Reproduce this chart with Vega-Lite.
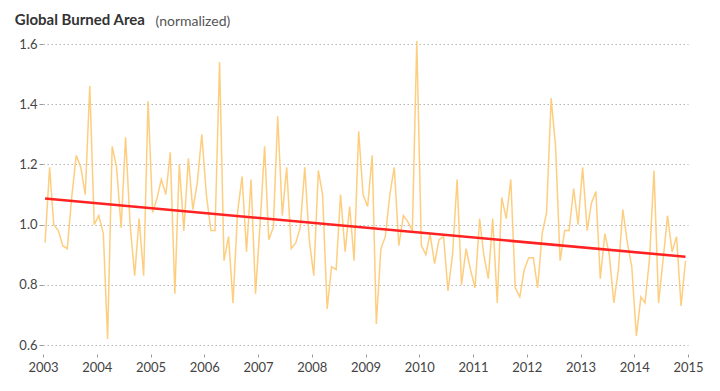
{
  "$schema": "https://vega.github.io/schema/vega-lite/v6.json",
  "width": 645,
  "height": 301,
  "autosize": "none",
  "padding": {"left": 43, "top": 44, "right": 32, "bottom": 46},
  "background": "white",
  "title": {
    "text": "Global Burned Area",
    "anchor": "start",
    "dx": -4,
    "offset": -14,
    "font": "Lato",
    "fontSize": 15,
    "fontWeight": "bold",
    "color": "#333333"
  },
  "config": {"view": {"stroke": null}},
  "datasets": {
    "burn": [
      {"date": "2003-01-15", "v": 0.94}, {"date": "2003-02-15", "v": 1.19}, {"date": "2003-03-15", "v": 1.00}, {"date": "2003-04-15", "v": 0.98},
      {"date": "2003-05-15", "v": 0.93}, {"date": "2003-06-15", "v": 0.92}, {"date": "2003-07-15", "v": 1.09}, {"date": "2003-08-15", "v": 1.23},
      {"date": "2003-09-15", "v": 1.19}, {"date": "2003-10-15", "v": 1.10}, {"date": "2003-11-15", "v": 1.46}, {"date": "2003-12-15", "v": 1.00},
      {"date": "2004-01-15", "v": 1.03}, {"date": "2004-02-15", "v": 0.97}, {"date": "2004-03-15", "v": 0.62}, {"date": "2004-04-15", "v": 1.26},
      {"date": "2004-05-15", "v": 1.19}, {"date": "2004-06-15", "v": 0.99}, {"date": "2004-07-15", "v": 1.29}, {"date": "2004-08-15", "v": 1.00},
      {"date": "2004-09-15", "v": 0.83}, {"date": "2004-10-15", "v": 1.02}, {"date": "2004-11-15", "v": 0.83}, {"date": "2004-12-15", "v": 1.41},
      {"date": "2005-01-15", "v": 1.04}, {"date": "2005-02-15", "v": 1.09}, {"date": "2005-03-15", "v": 1.15}, {"date": "2005-04-15", "v": 1.10},
      {"date": "2005-05-15", "v": 1.24}, {"date": "2005-06-15", "v": 0.77}, {"date": "2005-07-15", "v": 1.20}, {"date": "2005-08-15", "v": 0.98},
      {"date": "2005-09-15", "v": 1.22}, {"date": "2005-10-15", "v": 1.05}, {"date": "2005-11-15", "v": 1.14}, {"date": "2005-12-15", "v": 1.30},
      {"date": "2006-01-15", "v": 1.10}, {"date": "2006-02-15", "v": 0.98}, {"date": "2006-03-15", "v": 0.98}, {"date": "2006-04-15", "v": 1.54},
      {"date": "2006-05-15", "v": 0.88}, {"date": "2006-06-15", "v": 0.96}, {"date": "2006-07-15", "v": 0.74}, {"date": "2006-08-15", "v": 1.04},
      {"date": "2006-09-15", "v": 1.16}, {"date": "2006-10-15", "v": 0.91}, {"date": "2006-11-15", "v": 1.15}, {"date": "2006-12-15", "v": 0.77},
      {"date": "2007-01-15", "v": 1.00}, {"date": "2007-02-15", "v": 1.26}, {"date": "2007-03-15", "v": 0.95}, {"date": "2007-04-15", "v": 0.99},
      {"date": "2007-05-15", "v": 1.36}, {"date": "2007-06-15", "v": 1.03}, {"date": "2007-07-15", "v": 1.19}, {"date": "2007-08-15", "v": 0.92},
      {"date": "2007-09-15", "v": 0.94}, {"date": "2007-10-15", "v": 0.99}, {"date": "2007-11-15", "v": 1.19}, {"date": "2007-12-15", "v": 0.95},
      {"date": "2008-01-15", "v": 0.83}, {"date": "2008-02-15", "v": 1.18}, {"date": "2008-03-15", "v": 1.10}, {"date": "2008-04-15", "v": 0.72},
      {"date": "2008-05-15", "v": 0.86}, {"date": "2008-06-15", "v": 0.85}, {"date": "2008-07-15", "v": 1.10}, {"date": "2008-08-15", "v": 0.91},
      {"date": "2008-09-15", "v": 1.06}, {"date": "2008-10-15", "v": 0.88}, {"date": "2008-11-15", "v": 1.31}, {"date": "2008-12-15", "v": 1.10},
      {"date": "2009-01-15", "v": 1.06}, {"date": "2009-02-15", "v": 1.23}, {"date": "2009-03-15", "v": 0.67}, {"date": "2009-04-15", "v": 0.92},
      {"date": "2009-05-15", "v": 0.96}, {"date": "2009-06-15", "v": 1.10}, {"date": "2009-07-15", "v": 1.19}, {"date": "2009-08-15", "v": 0.93},
      {"date": "2009-09-15", "v": 1.03}, {"date": "2009-10-15", "v": 1.01}, {"date": "2009-11-15", "v": 0.98}, {"date": "2009-12-15", "v": 1.61},
      {"date": "2010-01-15", "v": 0.93}, {"date": "2010-02-15", "v": 0.90}, {"date": "2010-03-15", "v": 0.97}, {"date": "2010-04-15", "v": 0.87},
      {"date": "2010-05-15", "v": 0.95}, {"date": "2010-06-15", "v": 0.96}, {"date": "2010-07-15", "v": 0.78}, {"date": "2010-08-15", "v": 0.90},
      {"date": "2010-09-15", "v": 1.15}, {"date": "2010-10-15", "v": 0.80}, {"date": "2010-11-15", "v": 0.92}, {"date": "2010-12-15", "v": 0.85},
      {"date": "2011-01-15", "v": 0.79}, {"date": "2011-02-15", "v": 1.02}, {"date": "2011-03-15", "v": 0.90}, {"date": "2011-04-15", "v": 0.82},
      {"date": "2011-05-15", "v": 1.02}, {"date": "2011-06-15", "v": 0.74}, {"date": "2011-07-15", "v": 1.09}, {"date": "2011-08-15", "v": 1.02},
      {"date": "2011-09-15", "v": 1.15}, {"date": "2011-10-15", "v": 0.79}, {"date": "2011-11-15", "v": 0.76}, {"date": "2011-12-15", "v": 0.85},
      {"date": "2012-01-15", "v": 0.89}, {"date": "2012-02-15", "v": 0.89}, {"date": "2012-03-15", "v": 0.79}, {"date": "2012-04-15", "v": 0.97},
      {"date": "2012-05-15", "v": 1.04}, {"date": "2012-06-15", "v": 1.42}, {"date": "2012-07-15", "v": 1.26}, {"date": "2012-08-15", "v": 0.88},
      {"date": "2012-09-15", "v": 0.98}, {"date": "2012-10-15", "v": 0.98}, {"date": "2012-11-15", "v": 1.12}, {"date": "2012-12-15", "v": 1.00},
      {"date": "2013-01-15", "v": 1.19}, {"date": "2013-02-15", "v": 0.98}, {"date": "2013-03-15", "v": 1.07}, {"date": "2013-04-15", "v": 1.11},
      {"date": "2013-05-15", "v": 0.82}, {"date": "2013-06-15", "v": 0.97}, {"date": "2013-07-15", "v": 0.90}, {"date": "2013-08-15", "v": 0.74},
      {"date": "2013-09-15", "v": 0.85}, {"date": "2013-10-15", "v": 1.05}, {"date": "2013-11-15", "v": 0.94}, {"date": "2013-12-15", "v": 0.86},
      {"date": "2014-01-15", "v": 0.63}, {"date": "2014-02-15", "v": 0.76}, {"date": "2014-03-15", "v": 0.74}, {"date": "2014-04-15", "v": 0.89},
      {"date": "2014-05-15", "v": 1.18}, {"date": "2014-06-15", "v": 0.74}, {"date": "2014-07-15", "v": 0.88}, {"date": "2014-08-15", "v": 1.03},
      {"date": "2014-09-15", "v": 0.91}, {"date": "2014-10-15", "v": 0.96}, {"date": "2014-11-15", "v": 0.73}, {"date": "2014-12-15", "v": 0.88}
    ],
    "trend": [
      {"date": "2003-01-15", "v": 1.087},
      {"date": "2014-12-15", "v": 0.893}
    ]
  },
  "encoding": {
    "x": {
      "field": "date",
      "type": "temporal",
      "scale": {
        "type": "utc",
        "domain": [
          {"year": 2003, "month": 1, "date": 1, "utc": true},
          {"year": 2015, "month": 1, "date": 1, "utc": true}
        ]
      },
      "axis": {
        "title": null,
        "format": "%Y",
        "values": [
          {"year": 2003, "utc": true}, {"year": 2004, "utc": true}, {"year": 2005, "utc": true},
          {"year": 2006, "utc": true}, {"year": 2007, "utc": true}, {"year": 2008, "utc": true},
          {"year": 2009, "utc": true}, {"year": 2010, "utc": true}, {"year": 2011, "utc": true},
          {"year": 2012, "utc": true}, {"year": 2013, "utc": true}, {"year": 2014, "utc": true},
          {"year": 2015, "utc": true}
        ],
        "domain": false,
        "grid": false,
        "offset": 9,
        "tickSize": 3,
        "tickColor": "#999999",
        "labelPadding": 4,
        "labelFont": "Lato",
        "labelFontSize": 13,
        "labelColor": "#444444",
        "labelFlush": false,
        "labelOverlap": false
      }
    },
    "y": {
      "field": "v",
      "type": "quantitative",
      "scale": {"domain": [0.6, 1.6], "nice": false, "zero": false},
      "axis": {
        "title": "(normalized)",
        "titleAngle": 0,
        "titleAlign": "left",
        "titleBaseline": "alphabetic",
        "titleX": 112,
        "titleY": -19,
        "titleFont": "Lato",
        "titleFontSize": 14,
        "titleFontWeight": "normal",
        "titleColor": "#555555",
        "values": [0.6, 0.8, 1.0, 1.2, 1.4, 1.6],
        "format": ".1f",
        "domain": false,
        "tickSize": 4,
        "tickColor": "#999999",
        "labelPadding": 2,
        "labelFont": "Lato",
        "labelFontSize": 13,
        "labelColor": "#444444",
        "grid": true,
        "gridColor": "#b5b5b5",
        "gridDash": [1.5, 2.5],
        "gridWidth": 1
      }
    }
  },
  "layer": [
    {
      "data": {"name": "burn"},
      "mark": {"type": "line", "color": "#fdc66a", "strokeWidth": 1.5, "opacity": 0.85, "interpolate": "linear"}
    },
    {
      "data": {"name": "trend"},
      "mark": {"type": "line", "color": "#ff2222", "strokeWidth": 2.5}
    }
  ]
}
